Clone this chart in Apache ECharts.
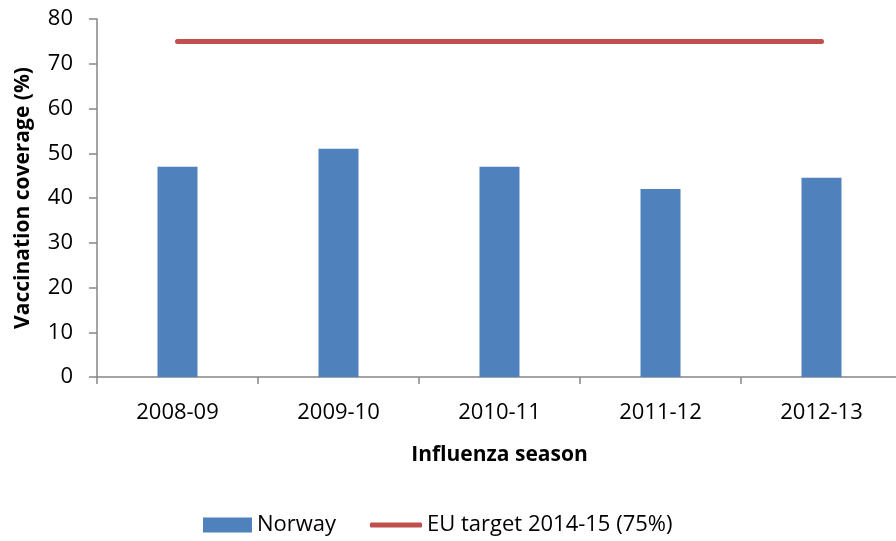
<!DOCTYPE html>
<html>
<head>
<meta charset="utf-8">
<script src="https://cdn.jsdelivr.net/npm/echarts@6/dist/echarts.min.js"></script>
<style>html,body{margin:0;padding:0;background:#fff}#c{width:896px;height:541px}</style>
</head>
<body>
<div id="c"></div>
<script>
const categories = ['2008-09', '2009-10', '2010-11', '2011-12', '2012-13'];
const norway = [47, 51, 47, 42, 44.5];
const euTarget = [75, 75, 75, 75, 75];
const yTicks = [0, 10, 20, 30, 40, 50, 60, 70, 80];

const FONT = '"Open Sans", sans-serif';
const chart = echarts.init(document.getElementById('c'));
chart.setOption({
  animation: false,
  textStyle: { fontFamily: FONT },
  grid: { left: 97, right: -6, top: 19, bottom: 164, containLabel: false, outerBoundsMode: 'none' },
  legend: [
    {
      left: 203,
      top: 514,
      padding: 0,
      itemWidth: 49,
      itemHeight: 15,
      textStyle: { fontFamily: FONT, fontSize: 22, color: '#000' },
      data: [{ name: 'Norway', icon: 'rect' }]
    },
    {
      left: 370,
      top: 514,
      padding: 0,
      itemWidth: 52,
      itemHeight: 5,
      textStyle: { fontFamily: FONT, fontSize: 22, color: '#000' },
      data: [{ name: 'EU target 2014-15 (75%)', icon: 'roundRect' }]
    }
  ],
  xAxis: {
    type: 'category',
    data: categories,
    name: 'Influenza season',
    nameLocation: 'middle',
    nameGap: 68,
    nameTextStyle: { fontFamily: FONT, fontSize: 21, fontWeight: 'bold', color: '#000' },
    axisLine: { lineStyle: { color: '#868686', width: 1.5 } },
    axisTick: { show: true, length: 7, alignWithLabel: false, lineStyle: { color: '#868686', width: 1.5 } },
    axisLabel: { fontFamily: FONT, fontSize: 22, color: '#000', margin: 25 }
  },
  yAxis: {
    type: 'value',
    min: yTicks[0],
    max: yTicks[yTicks.length - 1],
    interval: 10,
    name: 'Vaccination coverage (%)',
    nameLocation: 'middle',
    nameGap: 63,
    nameTextStyle: { fontFamily: FONT, fontSize: 21, fontWeight: 'bold', color: '#000' },
    axisLine: { show: true, lineStyle: { color: '#868686', width: 1.5 } },
    axisTick: { show: true, length: 8, inside: false, lineStyle: { color: '#868686', width: 1.5 } },
    axisLabel: { fontFamily: FONT, fontSize: 22, color: '#000', margin: 24 },
    splitLine: { show: false }
  },
  series: [
    {
      name: 'Norway',
      type: 'bar',
      data: norway,
      barWidth: 40,
      itemStyle: { color: '#4F81BD' }
    },
    {
      name: 'EU target 2014-15 (75%)',
      type: 'line',
      data: euTarget,
      symbol: 'none',
      showSymbol: false,
      lineStyle: { color: '#C0504D', width: 5, cap: 'round' },
      itemStyle: { color: '#C0504D' }
    }
  ]
});
</script>
</body>
</html>
